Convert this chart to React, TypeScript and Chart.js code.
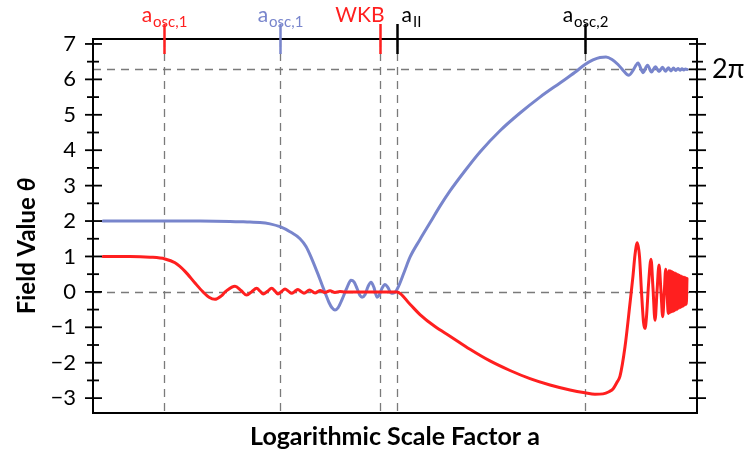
import React, { useEffect, useRef } from "react";
import { Chart, registerables } from "chart.js";

Chart.register(...registerables);

const RED = "#ff1f1f";
const BLUE = "#7885cc";
const FONT = "Lato, 'Open Sans', sans-serif";

const TWO_PI = 2 * Math.PI;
const X_MIN = -1;
const X_MAX = 59.4;
const Y_MIN = -3.42;
const Y_MAX = 7.14;

// Red field: starts at 1, rings down to 0, frozen until a_II, then falls and oscillates
const redLogA = [
  0, 2.7, 4.7, 6.2, 7.2, 8.2, 9.2, 10.0, 10.6, 11.2, 11.8, 12.3, 13.2, 13.8, 14.37, 14.85,
  15.37, 15.7, 16.03, 16.45, 16.87, 17.2, 17.5, 17.85, 18.2, 18.55, 18.87, 19.2, 19.5, 19.8,
  20.1, 20.65, 21.2, 21.7, 22.2, 22.7, 23.2, 23.7, 24.2, 29.4,
  30.7, 31.7, 33.2, 34.7, 36.7, 38.7, 40.7, 42.7, 44.7, 46.7, 48.2, 49.2, 50.0, 50.6, 51.0,
  51.4, 51.7, 52.2, 52.7, 53.0, 53.2, 53.43, 53.65, 53.85, 54.05, 54.2, 54.35, 54.55, 54.8,
  55.0, 55.2, 55.4, 55.6, 55.8, 55.97, 56.13, 56.27, 56.4, 56.53,
  56.6, 56.68, 56.75, 56.83, 56.9, 56.98, 57.05, 57.13, 57.2, 57.28, 57.35, 57.43, 57.5,
  57.58, 57.65, 57.73, 57.8, 57.88, 57.95, 58.03, 58.1, 58.18, 58.25, 58.33, 58.4,
];
const redTheta = [
  1.0, 1.0, 0.98, 0.93, 0.82, 0.58, 0.25, 0.0, -0.15, -0.21, -0.12, 0.02, 0.16, 0.04, -0.09, 0.0,
  0.1, 0.02, -0.06, 0.02, 0.1, 0.02, -0.06, 0.01, 0.08, 0.02, -0.04, 0.02, 0.07, 0.01,
  -0.04, 0.05, -0.03, 0.04, -0.02, 0.03, -0.015, 0.01, 0.0, 0.0,
  -0.35, -0.64, -0.98, -1.25, -1.62, -1.95, -2.22, -2.45, -2.63, -2.77, -2.85, -2.89, -2.88, -2.82, -2.74,
  -2.55, -2.38, -1.55, -0.32, 0.45, 1.05, 1.39, 1.0, 0.0, -0.85, -1.03, -0.7, 0.2, 0.92,
  0.1, -0.8, 0.0, 0.76, 0.0, -0.7, 0.0, 0.64, 0.0, -0.61,
  0.6, -0.58, 0.59, -0.56, 0.57, -0.55, 0.55, -0.53, 0.53, -0.51, 0.51, -0.49, 0.49,
  -0.46, 0.47, -0.44, 0.45, -0.42, 0.43, -0.4, 0.41, -0.37, 0.4, -0.35, 0.38,
];

// Blue field: starts at 2, rings around 0, then climbs and settles at 2π
const blueLogA = [
  0, 4.7, 9.7, 12.7, 14.7, 15.7, 16.7, 17.7, 18.7, 19.7, 20.3, 20.9, 21.5, 21.9, 22.2, 22.6,
  22.9, 23.2, 23.5, 23.9, 24.4, 24.8, 25.1, 25.4, 25.7, 25.9, 26.2, 26.5, 26.8, 27.1, 27.4,
  27.6, 27.9, 28.2, 28.5, 28.8, 29.0, 29.3,
  29.7, 30.2, 30.7, 31.7, 32.7, 33.7, 34.7, 36.2, 37.7, 39.7, 41.7, 43.7, 45.7, 47.2, 48.2,
  49.0, 49.7, 50.3, 50.9, 51.5, 52.0, 52.4, 52.6, 53.0, 53.3, 53.5, 54.0, 54.45, 54.85,
  55.25, 55.6, 55.95, 56.25, 56.53, 56.8, 57.05, 57.28, 57.5, 57.7, 57.9, 58.08, 58.25, 58.4,
];
const blueTheta = [
  2.0, 2.0, 2.0, 1.99, 1.97, 1.96, 1.92, 1.84, 1.7, 1.5, 1.28, 0.92, 0.5, 0.2, -0.02, -0.3,
  -0.45, -0.51, -0.45, -0.22, 0.12, 0.33, 0.28, 0.1, -0.1, -0.15, -0.08, 0.15, 0.27, 0.12, -0.15,
  -0.1, 0.1, 0.21, 0.12, -0.03, -0.04, 0.02,
  0.25, 0.62, 0.98, 1.48, 1.95, 2.42, 2.85, 3.42, 3.95, 4.55, 5.05, 5.5, 5.9, 6.2, 6.42,
  6.55, 6.62, 6.63, 6.56, 6.42, 6.26, 6.14, 6.12, 6.25, 6.4, 6.46, 6.19, 6.4, 6.21,
  6.36, 6.22, 6.34, 6.23, 6.33, 6.24, 6.32, 6.25, 6.31, 6.26, 6.3, 6.265, 6.295, 6.28,
];

// Top-axis markers
const markerLogA = [6.13, 17.7, 27.7, 29.4, 48.2];
const markerText = ["a", "a", "WKB", "a", "a"];
const markerSub = ["osc,1", "osc,1", "", "II", "osc,2"];
const markerColors = [RED, BLUE, RED, "#000", "#000"];
const markerAlign = ["center", "center", "right", "left", "center"];

const yMajorTicks = [-3, -2, -1, 0, 1, 2, 3, 4, 5, 6, 7];
const yMinorTicks = [-2.5, -1.5, -0.5, 0.5, 1.5, 2.5, 3.5, 4.5, 5.5, 6.5];
const rightExtraTicks = [TWO_PI];
const dashedLevels = [0, TWO_PI];

const xTitle = "Logarithmic Scale Factor a";
const yTitle = "Field Value ";
const yTitleSymbol = "θ";

function seg(ctx: CanvasRenderingContext2D, x1: number, y1: number, x2: number, y2: number) {
  ctx.beginPath();
  ctx.moveTo(x1, y1);
  ctx.lineTo(x2, y2);
  ctx.stroke();
}

const decorations = {
  id: "decorations",
  beforeDatasetsDraw(chart: any) {
    const { ctx, chartArea: a, scales } = chart;
    const xs = scales.x;
    const ys = scales.y;
    ctx.save();
    ctx.strokeStyle = "#7a7a7a";
    ctx.lineWidth = 1.3;
    ctx.setLineDash([8, 6]);
    for (const v of dashedLevels) {
      const py = Math.round(ys.getPixelForValue(v)) + 0.5;
      seg(ctx, a.left, py, a.right, py);
    }
    for (const m of markerLogA) {
      const px = Math.round(xs.getPixelForValue(m)) + 0.5;
      seg(ctx, px, a.top, px, a.bottom);
    }
    ctx.restore();
  },
  afterDatasetsDraw(chart: any) {
    const { ctx, chartArea: a, scales } = chart;
    const xs = scales.x;
    const ys = scales.y;
    ctx.save();
    // frame
    ctx.strokeStyle = "#000";
    ctx.lineWidth = 2;
    ctx.strokeRect(a.left, a.top, a.right - a.left, a.bottom - a.top);

    // left and right tick marks (crossing the axis lines)
    ctx.lineWidth = 1.8;
    for (const v of yMajorTicks) {
      const py = ys.getPixelForValue(v);
      seg(ctx, a.left - 8, py, a.left + 9, py);
      seg(ctx, a.right - 8, py, a.right + 9, py);
    }
    for (const v of rightExtraTicks) {
      const py = ys.getPixelForValue(v);
      seg(ctx, a.right - 8, py, a.right + 9, py);
    }
    for (const v of yMinorTicks) {
      const py = ys.getPixelForValue(v);
      seg(ctx, a.left - 6, py, a.left + 6, py);
      seg(ctx, a.right - 5, py, a.right + 6, py);
    }

    // top markers
    ctx.lineWidth = 2.5;
    markerLogA.forEach((m, i) => {
      const px = Math.round(xs.getPixelForValue(m)) + 0.5;
      ctx.strokeStyle = markerColors[i];
      seg(ctx, px, a.top - 15, px, a.top + 15);

      const mainFont = `21px ${FONT}`;
      const subFont = `15px ${FONT}`;
      ctx.font = mainFont;
      const w1 = ctx.measureText(markerText[i]).width;
      ctx.font = subFont;
      const w2 = markerSub[i] ? ctx.measureText(markerSub[i]).width + 1 : 0;
      const total = w1 + w2;
      let x0 = px - total / 2;
      if (markerAlign[i] === "right") x0 = px + 4 - total;
      if (markerAlign[i] === "left") x0 = px + 4;
      ctx.fillStyle = markerColors[i];
      ctx.textAlign = "left";
      ctx.textBaseline = "alphabetic";
      ctx.font = mainFont;
      ctx.fillText(markerText[i], x0, 22);
      if (markerSub[i]) {
        ctx.font = subFont;
        ctx.fillText(markerSub[i], x0 + w1 + 1, 27);
      }
    });

    // axis titles
    ctx.fillStyle = "#000";
    ctx.font = `bold 25px ${FONT}`;
    ctx.textAlign = "center";
    ctx.textBaseline = "middle";
    ctx.fillText(xTitle, (a.left + a.right) / 2, 437);

    ctx.translate(27, 246);
    ctx.rotate(-Math.PI / 2);
    ctx.textAlign = "left";
    ctx.font = `bold 24px ${FONT}`;
    const tw = ctx.measureText(yTitle).width;
    ctx.font = `italic bold 24px ${FONT}`;
    const sw = ctx.measureText(yTitleSymbol).width;
    const start = -(tw + sw) / 2;
    ctx.font = `bold 24px ${FONT}`;
    ctx.fillText(yTitle, start, 0);
    ctx.font = `italic bold 24px ${FONT}`;
    ctx.fillText(yTitleSymbol, start + tw, 0);
    ctx.restore();
  },
};

function fmt(v: number) {
  return v < 0 ? "\u2212" + Math.abs(v) : String(v);
}

export default function App() {
  const ref = useRef<HTMLCanvasElement | null>(null);

  useEffect(() => {
    if (!ref.current) return;
    const chart = new Chart(ref.current, {
      type: "line",
      data: {
        datasets: [
          {
            label: "red",
            data: redLogA.map((x, i) => ({ x, y: redTheta[i] })),
            borderColor: RED,
            borderWidth: 3,
            pointRadius: 0,
            cubicInterpolationMode: "monotone",
            borderJoinStyle: "round",
            borderCapStyle: "round",
            fill: false,
          },
          {
            label: "blue",
            data: blueLogA.map((x, i) => ({ x, y: blueTheta[i] })),
            borderColor: BLUE,
            borderWidth: 3,
            pointRadius: 0,
            cubicInterpolationMode: "monotone",
            borderJoinStyle: "round",
            borderCapStyle: "round",
            fill: false,
          },
        ],
      },
      options: {
        responsive: false,
        animation: false,
        devicePixelRatio: 1,
        layout: { padding: { left: 0, right: 0, top: 39, bottom: 42 } },
        plugins: { legend: { display: false }, tooltip: { enabled: false } },
        scales: {
          x: { type: "linear", min: X_MIN, max: X_MAX, display: false },
          y: {
            type: "linear",
            position: "left",
            min: Y_MIN,
            max: Y_MAX,
            afterFit: (s: any) => {
              s.width = 93;
            },
            afterBuildTicks: (s: any) => {
              s.ticks = yMajorTicks.map((value) => ({ value }));
            },
            grid: { display: false, drawTicks: false },
            border: { display: false },
            ticks: {
              padding: 17,
              color: "#000",
              font: { family: FONT, size: 22 },
              callback: (v: any) => fmt(Number(v)),
            },
          },
          y2: {
            type: "linear",
            position: "right",
            min: Y_MIN,
            max: Y_MAX,
            afterFit: (s: any) => {
              s.width = 52;
            },
            afterBuildTicks: (s: any) => {
              s.ticks = rightExtraTicks.map((value) => ({ value }));
            },
            grid: { display: false, drawTicks: false },
            border: { display: false },
            ticks: {
              padding: 15,
              color: "#000",
              font: { family: FONT, size: 27 },
              callback: () => "2π",
            },
          },
        },
      },
      plugins: [decorations],
    } as any);
    return () => chart.destroy();
  }, []);

  return (
    <div style={{ position: "absolute", left: 0, top: 0, width: 749, height: 455 }}>
      <canvas ref={ref} width={749} height={455} style={{ display: "block" }} />
    </div>
  );
}
